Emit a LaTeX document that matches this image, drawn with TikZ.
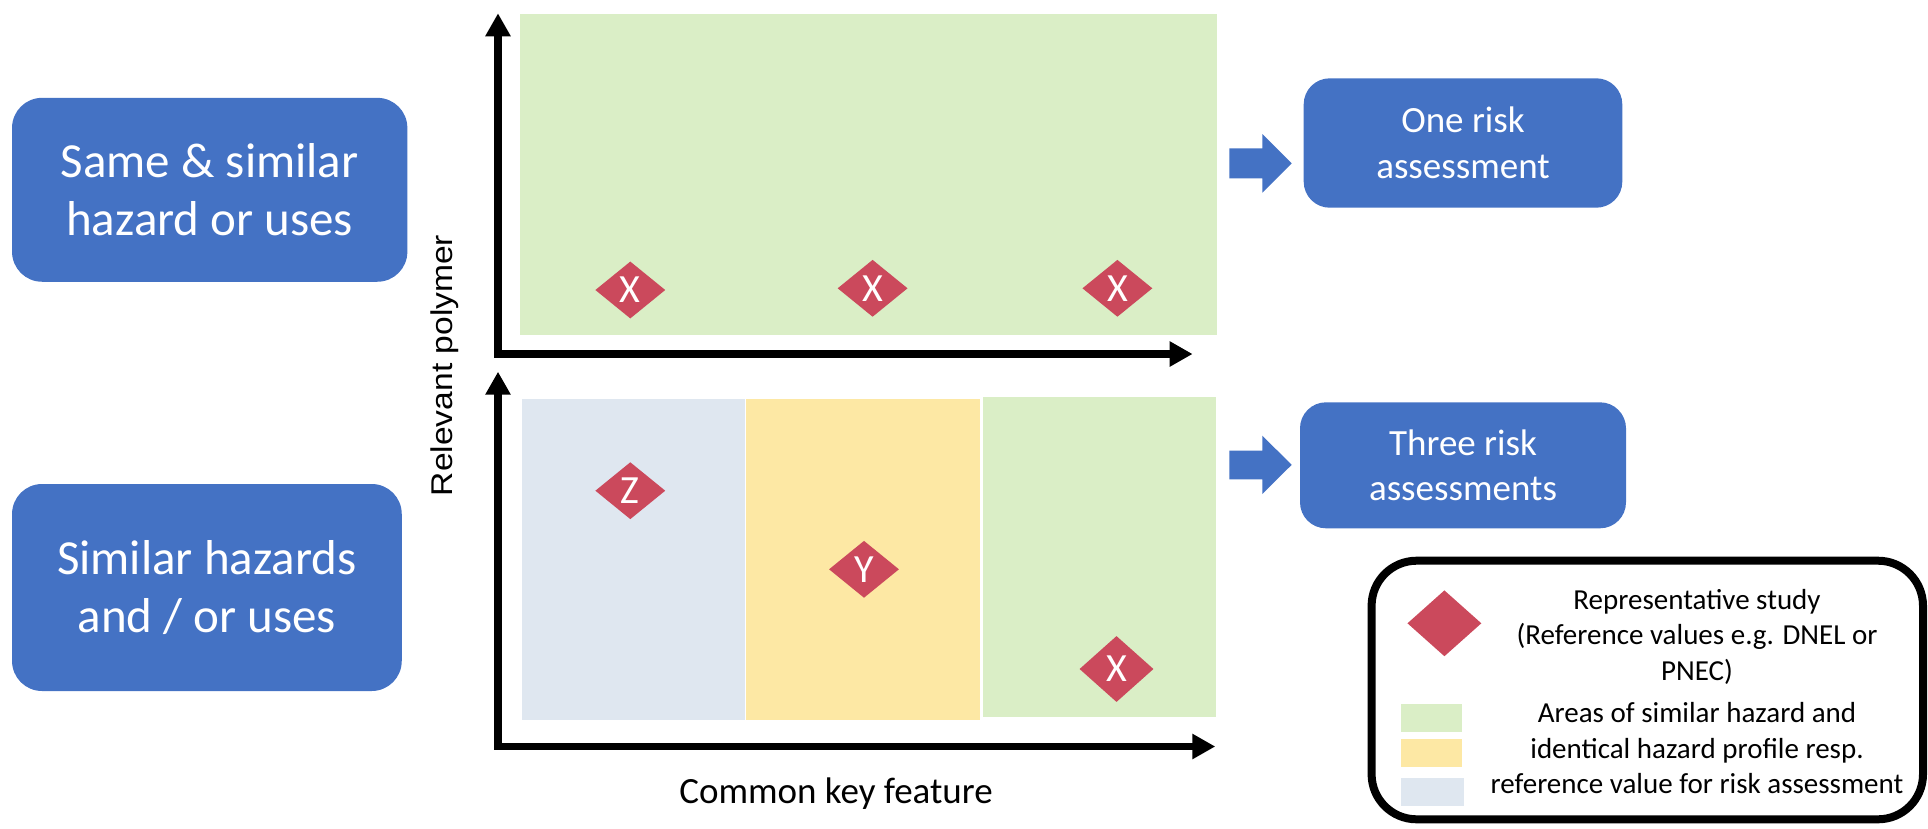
\documentclass[tikz,border=0pt]{standalone}
\usepackage{fontspec}
\setmainfont{Carlito}
\newfontfamily\arialf[FakeStretch=1.12]{Liberation Sans}
\usetikzlibrary{shapes.geometric,arrows.meta}
\definecolor{boxblue}{HTML}{4472C4}
\definecolor{areagreen}{HTML}{DAEEC6}
\definecolor{areayellow}{HTML}{FDE8A4}
\definecolor{areablue}{HTML}{DFE7F0}
\definecolor{studyred}{HTML}{CB495C}
\begin{document}
\begin{tikzpicture}[x=1pt,y=-1pt,
  catbox/.style={rounded corners=30pt, fill=boxblue, text=white, align=center, inner sep=0pt, font=\fontsize{49}{58}\selectfont},
  resbox/.style={rounded corners=26pt, fill=boxblue, text=white, align=center, inner sep=0pt, font=\fontsize{37}{45.5}\selectfont},
  study/.style={diamond, fill=studyred, text=white, inner sep=0pt, font=\fontsize{40}{40}\selectfont},
  axisline/.style={line width=7.5pt, line join=miter, {Triangle[length=23pt,width=24pt]}-{Triangle[length=23pt,width=24pt]}},
  legtext/.style={align=center, font=\fontsize{29}{35.3}\selectfont, anchor=base},
  blockarrow/.style={fill=boxblue}
]
\useasboundingbox (0,0) rectangle (1928,828);

% category boxes
\node[catbox, minimum width=395.3pt, minimum height=183.9pt] (same) at (209.7,189.8) {Same \& similar\\hazard or uses};
\node[catbox, minimum width=389.7pt, minimum height=207pt] (simi) at (206.9,587.5) {Similar hazards\\and / or uses};

% areas
\fill[areagreen] (520.2,14) rectangle (1217.3,334.7);
\fill[areablue] (522.2,399) rectangle (745.2,720);
\fill[areayellow] (746.1,399) rectangle (980.2,720);
\fill[areagreen] (983.2,397) rectangle (1215.8,716.7);

% axes
\coordinate (o1) at (498,354);
\coordinate (o2) at (498,746.5);
\draw[axisline] (498,13.3) -- (o1) -- (1192.6,354);
\draw[axisline] (498,371.7) -- (o2) -- (1215.3,746.5);

\node[font=\arialf\fontsize{30}{30}\selectfont, rotate=90, anchor=base] (ylab) at (452.8,365.5) {Relevant polymer};
\node[font=\fontsize{37}{37}\selectfont, anchor=base] (xlab) at (836,803) {Common key feature};

% studies
\node[study, minimum width=70pt, minimum height=57pt] (x1) at (630.3,290) {X};
\node[study, minimum width=70pt, minimum height=57pt] (x2) at (872.6,288.3) {X};
\node[study, minimum width=70pt, minimum height=57pt] (x3) at (1117.4,288.3) {X};
\node[study, minimum width=70pt, minimum height=57pt] (z) at (630.3,490.7) {Z};
\node[study, minimum width=70pt, minimum height=57pt] (y) at (864,569.3) {Y};
\node[study, minimum width=74pt, minimum height=66pt] (x4) at (1116.5,669) {X};

% block arrows
\fill[blockarrow] (1229.3,148.3) -- (1262.3,148.3) -- (1262.3,134) -- (1291.7,163.3) -- (1262.3,192.7) -- (1262.3,178.3) -- (1229.3,178.3) -- cycle;
\fill[blockarrow] (1229.3,450.7) -- (1262.3,450.7) -- (1262.3,435.7) -- (1291.7,464.8) -- (1262.3,494) -- (1262.3,479.3) -- (1229.3,479.3) -- cycle;

% result boxes
\node[resbox, minimum width=318.6pt, minimum height=129.4pt] (one) at (1463,143) {One risk\\assessment};
\node[resbox, minimum width=326pt, minimum height=126pt] (three) at (1463,465.3) {Three risk\\assessments};

% legend
\node[draw, line width=8pt, rounded corners=45pt, minimum width=551.4pt, minimum height=258.6pt, inner sep=0pt] (legend) at (1647.3,690) {};
\node[study, minimum width=74pt, minimum height=66pt] (ld) at (1444.4,623.3) {};
\fill[areagreen] (1401,704) rectangle (1462.2,731.7);
\fill[areayellow] (1401,739) rectangle (1462.2,766.7);
\fill[areablue] (1401,778) rectangle (1464,805.7);
\node[legtext] (lt1) at (1697,680) {Representative study\\(Reference values e.g. DNEL or\\PNEC)};
\node[legtext] (lt2) at (1697,793.3) {Areas of similar hazard and\\identical hazard profile resp.\\reference value for risk assessment};
\end{tikzpicture}
\end{document}
